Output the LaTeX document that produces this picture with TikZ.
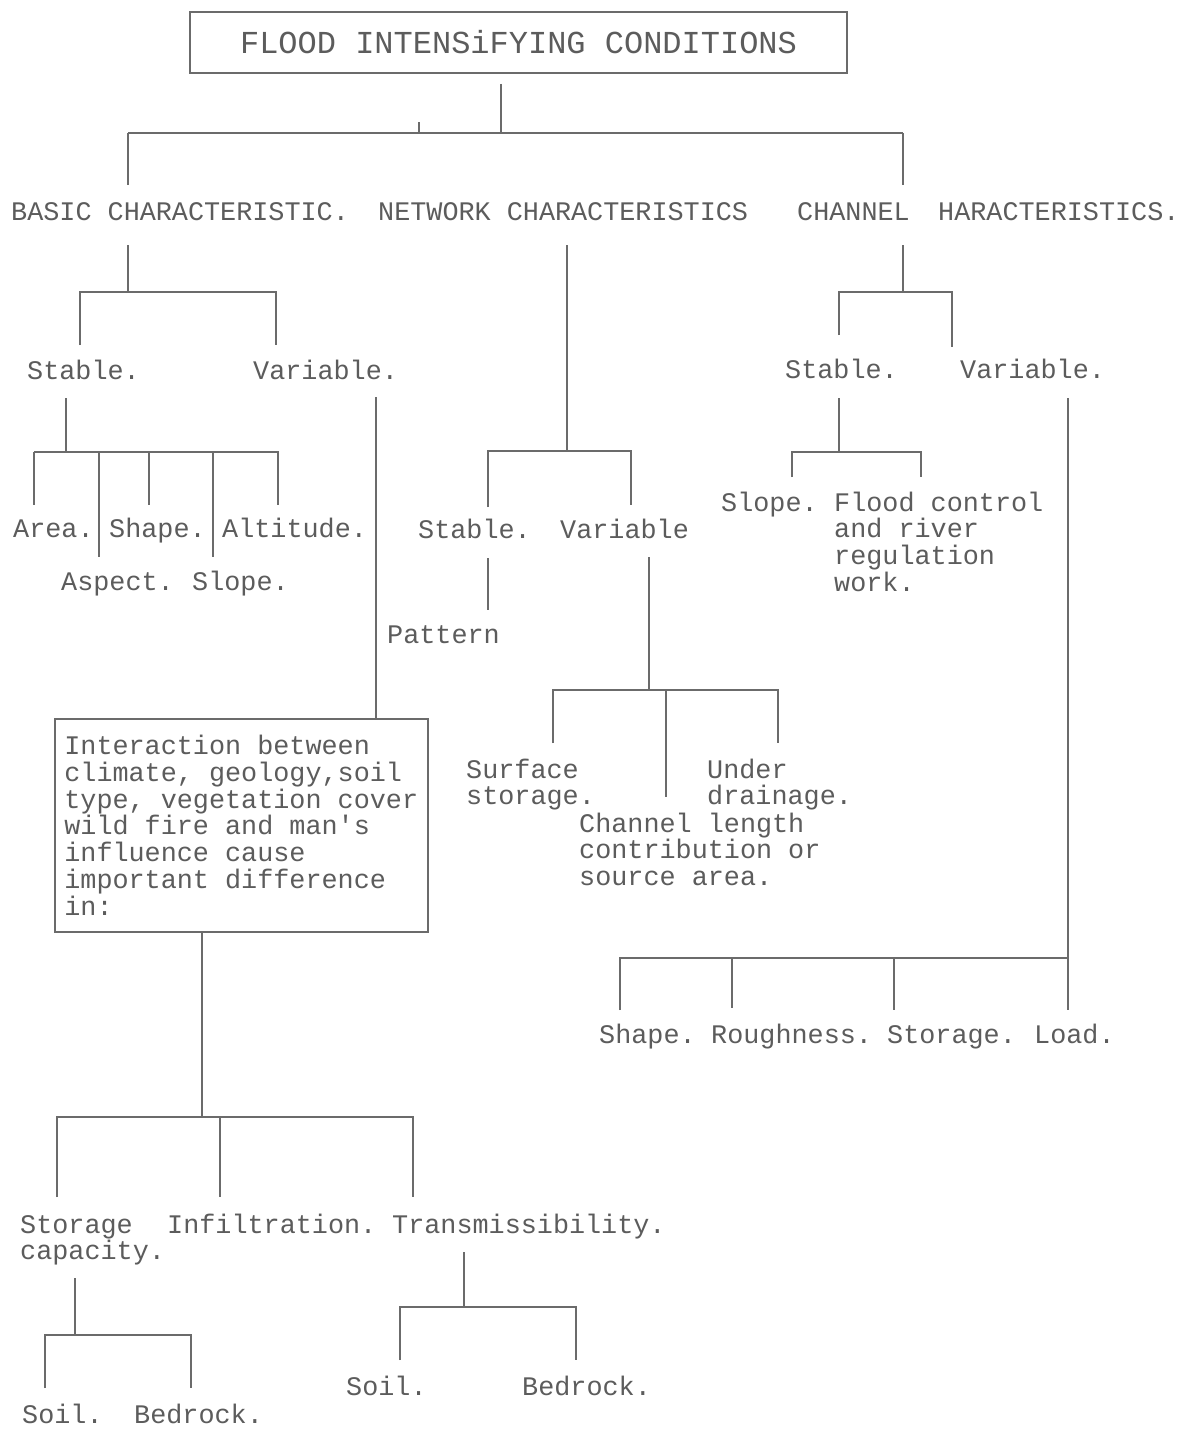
\documentclass[tikz,border=0pt]{standalone}
\usepackage{fontspec}
\setmainfont{Liberation Mono}
\newfontfamily\rawmono{Liberation Mono}
\definecolor{ink}{gray}{0.36}
\definecolor{rulec}{gray}{0.42}
\newcommand\mylblfont{\fontsize{26.8}{26.7}\selectfont}
\begin{document}
\begin{tikzpicture}[x=1pt,y=-1pt,
  lbl/.style={anchor=base west,inner sep=0pt,text=ink,font=\mylblfont},
  mlbl/.style={lbl,align=left},
  conn/.style={draw=rulec,line width=1.5pt}]
\useasboundingbox (0,0) rectangle (1185,1443);
\fill[white] (0,0) rectangle (1185,1443);

% title
\node[draw=rulec,line width=1.5pt,minimum width=657pt,minimum height=61pt,inner sep=0pt,
      text=ink,font=\fontsize{32}{32}\selectfont] (title) at (518.5,42.5) {FLOOD INTENSiFYING CONDITIONS};

% level 1
\node[lbl] (basic) at (11,220) {BASIC CHARACTERISTIC.};
\node[lbl] (network) at (378,220) {NETWORK CHARACTERISTICS};
\node[lbl] (channel) at (797,220) {CHANNEL};
\node[lbl] (channel2) at (938,220) {HARACTERISTICS.};

% basic subtree
\node[lbl] (bstable) at (27,379) {Stable.};
\node[lbl] (bvar) at (253,379) {Variable.};
\node[lbl] (area) at (13,537) {Area.};
\node[lbl] (bshape) at (109,537) {Shape.};
\node[lbl] (alt) at (222,537) {Altitude.};
\node[lbl] (aspect) at (61,590) {Aspect.};
\node[lbl] (bslope) at (192,590) {Slope.};
\node[draw=rulec,line width=1.5pt,anchor=north west,minimum width=373pt,minimum height=213pt,
      inner xsep=9pt,inner ysep=0pt,align=left,text=ink,
      font=\mylblfont] (inter) at (54,718)
  {Interaction between\\climate, geology,soil\\type, vegetation cover\\wild fire and man{\rawmono '}s\\influence cause\\important difference\\in:};
\node[mlbl] (storcap) at (20,1259.7) {Storage\\capacity.};
\node[lbl] (infil) at (167,1233) {Infiltration.};
\node[lbl] (trans) at (392,1233) {Transmissibility.};
\node[lbl] (soil1) at (22,1423) {Soil.};
\node[lbl] (bed1) at (134,1423) {Bedrock.};
\node[lbl] (soil2) at (346,1395) {Soil.};
\node[lbl] (bed2) at (522,1395) {Bedrock.};

% network subtree
\node[lbl] (nstable) at (418,538) {Stable.};
\node[lbl] (nvar) at (560,538) {Variable};
\node[lbl] (pattern) at (387,643) {Pattern};
\node[mlbl] (surf) at (466,804.7) {Surface\\storage.};
\node[mlbl] (under) at (707,804.7) {Under\\drainage.};
\node[mlbl] (chlen) at (579,885.4) {Channel length\\contribution or\\source area.};

% channel subtree
\node[lbl] (cstable) at (785,378) {Stable.};
\node[lbl] (cvar) at (960,378) {Variable.};
\node[lbl] (cslope) at (721,511) {Slope.};
\node[mlbl] (flood) at (834,591.1) {Flood control\\and river\\regulation\\work.};
\node[lbl] (cshape) at (599,1043) {Shape.};
\node[lbl] (rough) at (711,1043) {Roughness.};
\node[lbl] (cstor) at (887,1043) {Storage.};
\node[lbl] (load) at (1034,1043) {Load.};

% ---- connectors ----
% top
\draw[conn] (title.south -| 501,0) ++(0,10) -- (501,133);
\draw[conn] (419,122) -- (419,133);
\draw[conn] (128,133) -- (903,133);
\draw[conn] (128,133) -- (128,185);
\draw[conn] (903,133) -- (903,185);

% basic
\draw[conn] (128,245) -- (128,292);
\draw[conn] (80,345) -- (80,292) -- (276,292) -- (276,345);
\draw[conn] (66,398) -- (66,452);
\draw[conn] (34,452) -- (279,452);
\draw[conn] (34,452) -- (34,505);
\draw[conn] (99,452) -- (99,557);
\draw[conn] (149,452) -- (149,505);
\draw[conn] (213,452) -- (213,557);
\draw[conn] (278,452) -- (278,505);
\draw[conn] (376,397) -- (inter.north -| 376,0);
\draw[conn] (inter.south -| 202,0) -- (202,1117);
\draw[conn] (57,1197) -- (57,1117) -- (413,1117) -- (413,1197);
\draw[conn] (220,1117) -- (220,1197);
\draw[conn] (75,1278) -- (75,1335);
\draw[conn] (45,1388) -- (45,1335) -- (191,1335) -- (191,1388);
\draw[conn] (464,1252) -- (464,1307);
\draw[conn] (400,1360) -- (400,1307) -- (576,1307) -- (576,1360);

% network
\draw[conn] (567,245) -- (567,451);
\draw[conn] (488,507) -- (488,451) -- (631,451) -- (631,505);
\draw[conn] (488,558) -- (488,610);
\draw[conn] (649,557) -- (649,690);
\draw[conn] (553,743) -- (553,690) -- (778,690) -- (778,743);
\draw[conn] (666,690) -- (666,797);

% channel
\draw[conn] (903,245) -- (903,292);
\draw[conn] (839,335) -- (839,292) -- (952,292) -- (952,347);
\draw[conn] (839,398) -- (839,452);
\draw[conn] (792,477) -- (792,452) -- (921,452) -- (921,477);
\draw[conn] (1068,398) -- (1068,1010);
\draw[conn] (620,1010) -- (620,958) -- (1068,958);
\draw[conn] (732,958) -- (732,1008);
\draw[conn] (894,958) -- (894,1010);
\end{tikzpicture}
\end{document}
